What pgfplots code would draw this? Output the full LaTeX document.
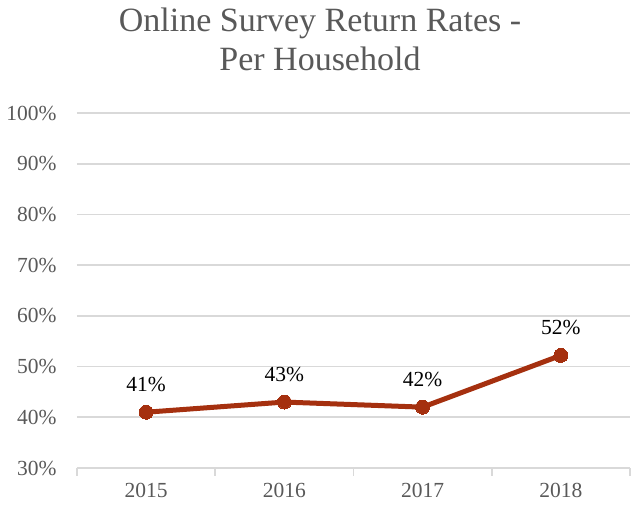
\documentclass[border=0pt]{standalone}
\usepackage{pgfplots}
\pgfplotsset{compat=1.18}
\usepackage{fontspec}
\setmainfont{Liberation Serif}
\definecolor{linec}{HTML}{A5300F}
\definecolor{txt}{HTML}{595959}
\definecolor{gridc}{HTML}{D9D9D9}
\begin{document}
\begin{tikzpicture}[x=1pt,y=1pt]
\useasboundingbox (0,0) rectangle (633,509);
\node[txt,font=\fontsize{34}{39}\selectfont,align=center] at (320,470) {Online Survey Return Rates -\\Per Household};
\begin{axis}[
  at={(77pt,41pt)}, anchor=south west,
  scale only axis, width=553pt, height=355pt,
  xmin=-0.5, xmax=3.5, ymin=30, ymax=100,
  xtick={0,1,2,3}, xticklabels={2015,2016,2017,2018},
  minor xtick={-0.5,0.5,1.5,2.5,3.5},
  ytick={30,40,...,100},
  yticklabel={\pgfmathprintnumber{\tick}\%},
  /pgf/number format/assume math mode=true,
  axis line style={draw=none},
  axis x line*=bottom,
  x axis line style={draw=gridc, line width=1.6pt},
  ymajorgrids, grid style={gridc, line width=1.6pt},
  major tick length=0pt,
  minor tick length=8pt,
  tick align=outside,
  minor tick style={gridc, line width=1.6pt},
  ticklabel style={txt, font=\fontsize{21.5}{24}\selectfont},
  yticklabel style={xshift=-17pt},
  xticklabel style={yshift=-12pt},
  clip=false,
]
\addplot[linec, line width=5pt, mark=*, mark size=7pt, mark options={fill=linec, draw=linec, line width=0pt},
  nodes near coords={\pgfmathprintnumber{\pgfplotspointmeta}\%},
  point meta=explicit,
  every node near coord/.append style={black, font=\fontsize{21.5}{24}\selectfont, yshift=17pt}]
coordinates {(0,41) [41] (1,43) [43] (2,42) [42] (3,52.2) [52]};
\end{axis}
\end{tikzpicture}
\end{document}
